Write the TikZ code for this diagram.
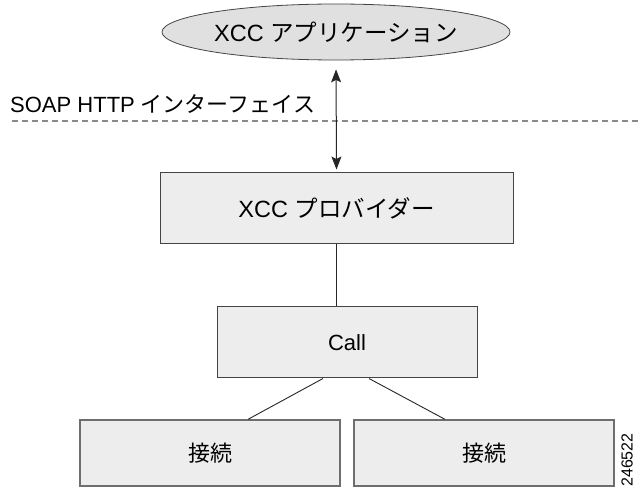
\documentclass[tikz,border=0pt]{standalone}
\usepackage{fontspec}
\setmainfont{Liberation Sans}
\newfontfamily\jp{Noto Sans CJK JP}
\usetikzlibrary{shapes.geometric,arrows.meta}
\definecolor{boxfill}{HTML}{EDEDED}
\definecolor{ellfill}{HTML}{E0E0E0}
\definecolor{boxline}{HTML}{444444}
\definecolor{lowline}{HTML}{6E6E6E}
\definecolor{dashcol}{HTML}{8A8A8A}
\begin{document}
\begin{tikzpicture}[x=1pt,y=-1pt,
  lbl/.style={font=\fontsize{22}{26}\selectfont},
  biglbl/.style={font=\fontsize{23.5}{28}\selectfont},
  box/.style={draw=boxline,fill=boxfill,line width=1pt,inner sep=0pt,lbl},
  lowbox/.style={box,draw=lowline,line width=1.3pt,minimum width=260pt,minimum height=66pt},
  conn/.style={draw=black!85,line width=0.9pt},
  tip/.style={Stealth[length=13pt,width=10pt,inset=2.5pt]},
  biarrow/.style={conn,line width=1pt,{Stealth[length=13pt,width=10pt,inset=2.5pt]}-{Stealth[length=13pt,width=10pt,inset=2.5pt]}}
]
\useasboundingbox (0,0) rectangle (638,489);
\node[ellipse,draw=boxline,fill=ellfill,line width=0.8pt,inner sep=0pt,
      minimum width=348pt,minimum height=56pt,biglbl] (app) at (336,32) {XCC {\jp アプリケーション}};
\node[box,biglbl,minimum width=353pt,minimum height=71pt] (prov) at (336.5,208.5) {XCC {\jp プロバイダー}};
\node[box,minimum width=260pt,minimum height=71pt] (call) at (347,342.5) {Call};
\node[lowbox] (c1) at (210,453) {\jp 接続};
\node[lowbox] (c2) at (484,453) {\jp 接続};
\coordinate (dl) at (12,121);
\coordinate (dr) at (638,121);
\draw[dashcol,line width=1.2pt,dash pattern=on 6pt off 4pt] (dl) -- (dr);
\node[anchor=west,lbl,inner sep=0pt] (soap) at (10,104) {SOAP HTTP {\jp インターフェイス}};
\draw[biarrow,shorten <=9pt,shorten >=3pt] (app.south) -- (prov.north);
\draw[conn] (prov.south) -- (prov.south |- call.north);
\draw[conn] ([xshift=-24pt]call.south) -- ([xshift=38pt]c1.north);
\draw[conn] ([xshift=22pt]call.south) -- ([xshift=-39pt]c2.north);
\node[rotate=90,font=\fontsize{16}{18}\selectfont,inner sep=0pt] (fig) at (627,460) {246522};
\end{tikzpicture}
\end{document}
